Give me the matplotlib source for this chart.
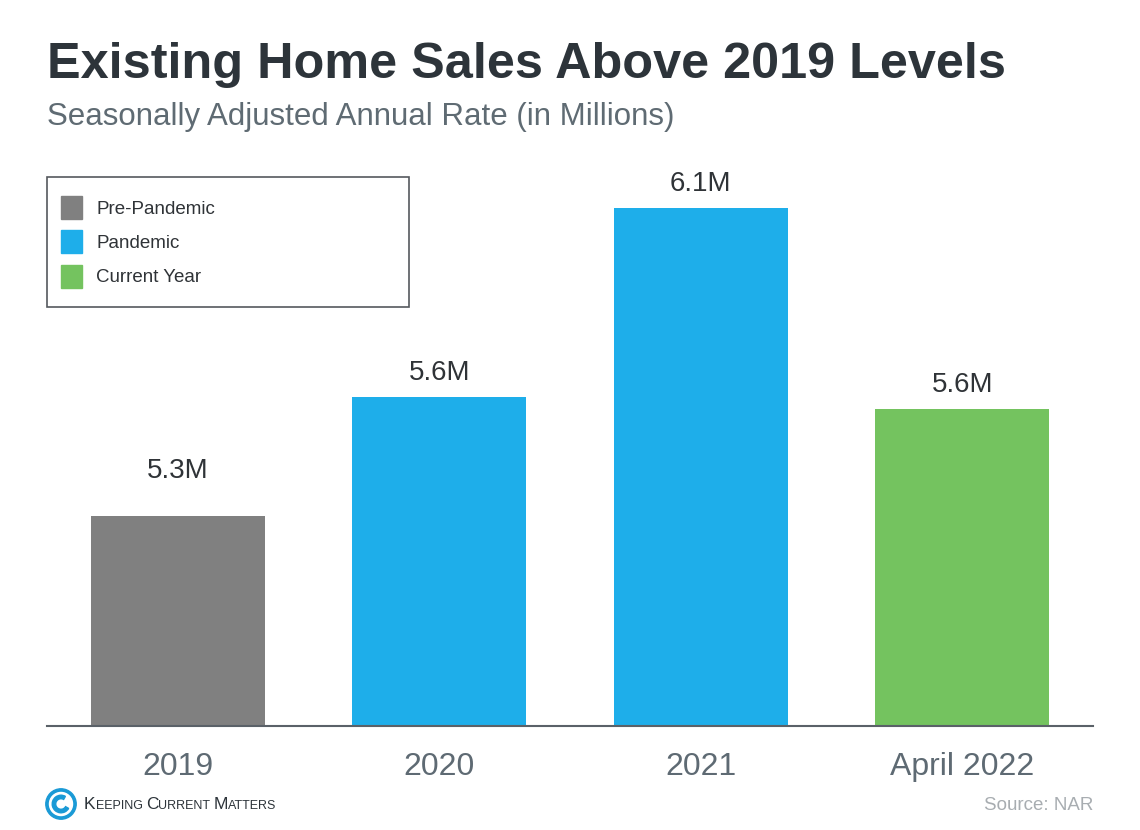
import matplotlib.pyplot as plt
from matplotlib.patches import Rectangle, Circle, Wedge

plt.rcParams['font.family'] = ['Liberation Sans', 'DejaVu Sans']

# data
categories = ['2019', '2020', '2021', 'April 2022']
values = [5.34, 5.64, 6.12, 5.61]
labels = ['5.3M', '5.6M', '6.1M', '5.6M']
groups = ['Pre-Pandemic', 'Pandemic', 'Pandemic', 'Current Year']
legend_names = ['Pre-Pandemic', 'Pandemic', 'Current Year']
group_colors = {'Pre-Pandemic': '#808080', 'Pandemic': '#1eaeea', 'Current Year': '#74c35f'}

fig = plt.figure(figsize=(11.4, 8.3), dpi=100)
ax = fig.add_axes([0.0412, 0.1253, 0.9176, 0.67])

x = range(len(categories))
colors = [group_colors[g] for g in groups]
ax.bar(x, values, width=0.665, color=colors, zorder=2)
ax.set_xlim(-0.5, 3.5)
ax.set_ylim(4.808, 6.216)

# value labels (the 2019 one sits a bit higher in the original)
offsets = [23, 8, 8, 8]
for xi, v, lab, off in zip(x, values, labels, offsets):
    ax.annotate(lab, (xi, v), xytext=(0, off), textcoords='offset points',
                ha='center', va='bottom', fontsize=20, color='#2f3337')

for s in ['top', 'right', 'left']:
    ax.spines[s].set_visible(False)
ax.spines['bottom'].set_color('#5a6168')
ax.spines['bottom'].set_linewidth(1.5)
ax.set_yticks([])
ax.set_xticks(list(x))
ax.set_xticklabels(categories, fontsize=23, color='#5e6a73')
ax.tick_params(axis='x', length=0, pad=19)

# titles
fig.text(0.0412, 0.906, 'Existing Home Sales Above 2019 Levels', fontsize=36.3,
         fontweight='bold', color='#2d343a', ha='left', va='baseline')
fig.text(0.0412, 0.849, 'Seasonally Adjusted Annual Rate (in Millions)', fontsize=22.5,
         color='#5f6b73', ha='left', va='baseline')

# legend box
fig.patches.append(Rectangle((47 / 1140, 1 - 307 / 830), 362 / 1140, 130 / 830,
                             transform=fig.transFigure, fill=False,
                             edgecolor='#55595e', linewidth=1.2))
handles = [Rectangle((0, 0), 1, 1, color=group_colors[n]) for n in legend_names]
fig.legend(handles, legend_names, loc='upper left',
           bbox_to_anchor=(44 / 1140, 1 - 179 / 830), frameon=False,
           fontsize=13.5, handlelength=1.15, handleheight=1.5,
           labelspacing=0.62, handletextpad=0.75, labelcolor='#2f3337')

# logo
logo_ax = fig.add_axes([45 / 1140, 1 - 820 / 830, 32 / 1140, 32 / 830])
logo_ax.set_xlim(-1, 1)
logo_ax.set_ylim(-1, 1)
logo_ax.set_aspect('equal')
logo_ax.axis('off')
logo_ax.add_patch(Circle((0, 0), 0.95, color='#1a9ad6'))
logo_ax.add_patch(Circle((0, 0), 0.72, color='white'))
logo_ax.add_patch(Wedge((0, 0), 0.55, 60, 330, width=0.22, color='#1a9ad6'))

# logo text in small caps, built piece by piece
parts = [('K', 12.5), ('EEPING ', 9), ('C', 12.5), ('URRENT ', 9), ('M', 12.5), ('ATTERS', 9)]
r = fig.canvas.get_renderer()
xpos = 84 / 1140
y0 = 1 - 809 / 830
for txt, fs in parts:
    t = fig.text(xpos, y0, txt, fontsize=fs, color='#2d343a', ha='left', va='baseline')
    xpos += t.get_window_extent(renderer=r).width / 1140

fig.text(1093 / 1140, 1 - 810 / 830, 'Source: NAR', fontsize=13.5, color='#a8adb1',
         ha='right', va='baseline')

fig.savefig('out.png', dpi=100, facecolor='white')
